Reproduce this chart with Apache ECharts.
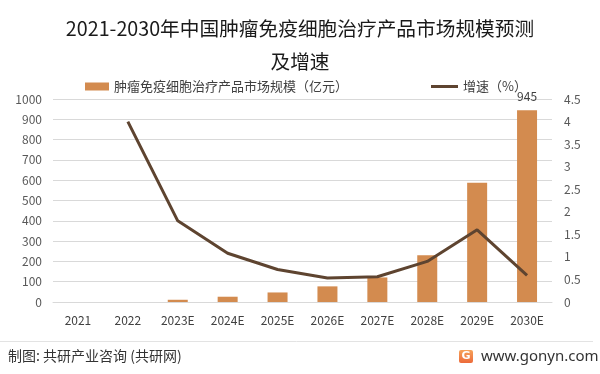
<!DOCTYPE html>
<html>
<head>
<meta charset="utf-8">
<script src="https://cdn.jsdelivr.net/npm/echarts@6/dist/echarts.min.js"></script>
<style>html,body{margin:0;padding:0;background:#fff;}#c{width:600px;height:374px;}</style>
</head>
<body>
<div id="c"></div>
<script>
var categories = ['2021','2022','2023E','2024E','2025E','2026E','2027E','2028E','2029E','2030E'];
var marketSize = [null, null, 11, 26, 47, 77, 121, 230, 588, 945];
var growthRate = [null, 4.0, 1.80, 1.08, 0.72, 0.53, 0.56, 0.90, 1.60, 0.59];
var barName = '肿瘤免疫细胞治疗产品市场规模（亿元）';
var lineName = '增速（%）';
var titleText = '2021-2030年中国肿瘤免疫细胞治疗产品市场规模预测\n及增速';
var sourceText = '制图: 共研产业咨询 (共研网)';
var siteText = 'www.gonyn.com';

var FONT = '"Noto Sans CJK SC","Noto Sans",sans-serif';
var chart = echarts.init(document.getElementById('c'), null, {renderer:'canvas'});

var barData = marketSize.map(function(v, i){
  if (i === marketSize.length - 1) {
    return {value: v, label: {show: true, position: 'top', distance: 8, color: '#404040', fontSize: 12, fontFamily: FONT}};
  }
  return v;
});

chart.setOption({
  backgroundColor: '#ffffff',
  animation: false,
  textStyle: {fontFamily: FONT},
  title: {
    text: titleText,
    left: 'center',
    top: 7,
    textStyle: {fontSize: 19.7, fontWeight: 'normal', color: '#1a1a1a', lineHeight: 33, fontFamily: FONT}
  },
  legend: [
    {
      left: 80,
      top: 75,
      itemWidth: 24,
      itemHeight: 8,
      itemGap: 5,
      textStyle: {fontSize: 13, color: '#404040', fontFamily: FONT},
      data: [{name: barName, icon: 'rect'}]
    },
    {
      left: 426,
      top: 75,
      itemWidth: 27,
      itemHeight: 3,
      textStyle: {fontSize: 13, color: '#404040', fontFamily: FONT},
      data: [{name: lineName, icon: 'rect', itemStyle: {color: '#5e4430'}}]
    }
  ],
  grid: {left: 53, right: 48, top: 99, bottom: 72, containLabel: false},
  xAxis: {
    type: 'category',
    data: categories,
    axisLine: {lineStyle: {color: '#d9d9d9', width: 1}},
    axisTick: {show: false},
    axisLabel: {color: '#404040', fontSize: 12, margin: 12, fontFamily: FONT}
  },
  yAxis: [
    {
      type: 'value', min: 0, max: 1000, interval: 100,
      axisLine: {show: false}, axisTick: {show: false},
      axisLabel: {color: '#595959', fontSize: 12, margin: 11, fontFamily: FONT, formatter: function(v){ return String(v); }},
      splitLine: {lineStyle: {color: '#d9d9d9', width: 1}}
    },
    {
      type: 'value', min: 0, max: 4.5, interval: 0.5,
      axisLine: {show: false}, axisTick: {show: false},
      axisLabel: {color: '#595959', fontSize: 12, margin: 12, fontFamily: FONT, formatter: function(v){ return String(v); }},
      splitLine: {show: false}
    }
  ],
  series: [
    {
      name: barName,
      type: 'bar',
      yAxisIndex: 0,
      barWidth: 20,
      itemStyle: {color: '#d38b4f'},
      data: barData
    },
    {
      name: lineName,
      type: 'line',
      yAxisIndex: 1,
      symbol: 'none',
      showSymbol: false,
      lineStyle: {color: '#5e4430', width: 3},
      itemStyle: {color: '#5e4430'},
      data: growthRate
    }
  ],
  graphic: [
    {type: 'line', shape: {x1: 0, y1: 341.5, x2: 593, y2: 341.5}, style: {stroke: '#e3e3e3', lineWidth: 1}, silent: true},
    {type: 'text', left: 8, top: 349, style: {text: sourceText, fontSize: 14, fill: '#333333', fontFamily: FONT}},
    {type: 'rect', shape: {x: 459, y: 350, width: 14, height: 13, r: 2}, style: {fill: new echarts.graphic.LinearGradient(0,0,0,1,[{offset:0,color:'#f6a25a'},{offset:1,color:'#ec6a3a'}])}},
    {type: 'text', x: 466, y: 356.5, style: {text: 'G', fontSize: 11, fontWeight: 'bold', fill: '#ffffff', align: 'center', verticalAlign: 'middle', fontFamily: 'DejaVu Sans'}},
    {type: 'text', left: 481, top: 349, style: {text: siteText, fontSize: 15, fill: '#333333', fontFamily: '"Noto Sans",sans-serif'}}
  ]
});
</script>
</body>
</html>
